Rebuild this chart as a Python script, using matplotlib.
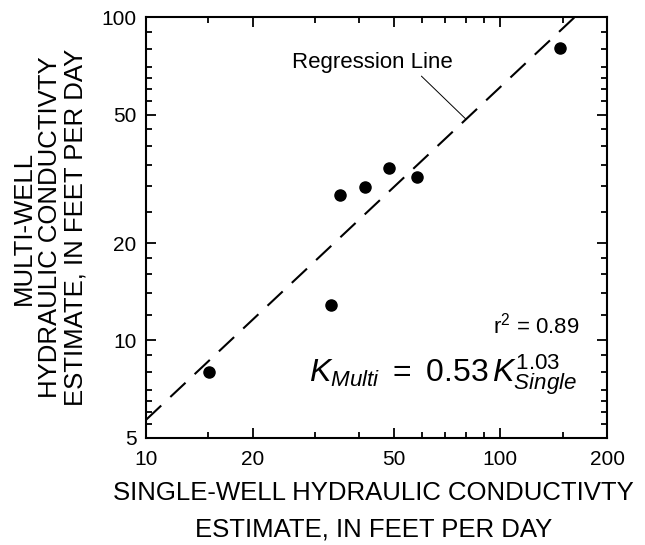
import numpy as np
import matplotlib.pyplot as plt
from matplotlib.ticker import FixedLocator, NullFormatter, FuncFormatter

plt.rcParams["font.family"] = ["Liberation Sans", "DejaVu Sans"]
plt.rcParams["mathtext.fontset"] = "custom"
plt.rcParams["mathtext.rm"] = "Liberation Sans"
plt.rcParams["mathtext.it"] = "Liberation Sans:italic"

# ── data ──────────────────────────────────────────────────────────────────
k_single = [15.1, 33.3, 35.3, 41.5, 48.6, 58.1, 147.4]
k_multi  = [8.0, 12.9, 28.2, 29.9, 34.1, 32.0, 80.4]

coef     = 0.53
exponent = 1.03
r2       = 0.89

x_major = [10, 20, 50, 100, 200]
x_minor = [15, 30, 40, 60, 70, 80, 90, 150]
y_major = [5, 10, 20, 50, 100]
y_minor = [5.5, 6, 6.5, 7, 8, 9, 12, 14, 16, 18, 25, 30, 35, 40, 45,
           55, 60, 65, 70, 80, 90]

# ── figure ────────────────────────────────────────────────────────────────
fig = plt.figure(figsize=(6.45, 5.45), dpi=100)
ax = fig.add_axes([0.2264, 0.1969, 0.7147, 0.7714])
ax.set_xscale("log")
ax.set_yscale("log")
ax.set_xlim(10, 200)
ax.set_ylim(5, 100)

# regression line  K_multi = 0.53 K_single^1.03
xx = np.logspace(1, np.log10(200), 200)
ax.plot(xx, coef * xx**exponent, color="black", lw=1.5, dashes=(10, 6))

ax.plot(k_single, k_multi, "o", color="black", ms=8, zorder=3)

# leader for the regression line label
x_lead = 80
ax.annotate("Regression Line", xy=(x_lead, coef * x_lead**exponent),
            xytext=(43.4, 69.5), ha="center", va="baseline", fontsize=16,
            arrowprops=dict(arrowstyle="-", lw=0.7, color="black",
                            relpos=(0.79, 0), shrinkA=0, shrinkB=0))

ax.text(0.941, 0.249, r"r$^{2}$ = " + f"{r2:.2f}", transform=ax.transAxes,
        ha="right", va="baseline", fontsize=16)
ax.text(0.935, 0.1325,
        r"$K_{Multi}\ =\ $" + f"{coef:.2f}" + r"$\,K_{Single}^{" + f"{exponent:.2f}" + "}$",
        transform=ax.transAxes, ha="right", va="baseline", fontsize=23)

# ── axes styling ──────────────────────────────────────────────────────────
fmt = FuncFormatter(lambda v, p: f"{v:g}")
ax.xaxis.set_major_locator(FixedLocator(x_major))
ax.xaxis.set_minor_locator(FixedLocator(x_minor))
ax.yaxis.set_major_locator(FixedLocator(y_major))
ax.yaxis.set_minor_locator(FixedLocator(y_minor))
ax.xaxis.set_major_formatter(fmt)
ax.yaxis.set_major_formatter(fmt)
ax.xaxis.set_minor_formatter(NullFormatter())
ax.yaxis.set_minor_formatter(NullFormatter())

ax.tick_params(which="both", direction="in", top=True, right=True,
               width=1.3, labelsize=15)
ax.tick_params(which="major", length=7)
ax.tick_params(which="minor", length=4)
ax.tick_params(axis="x", which="major", pad=9)
ax.tick_params(axis="y", which="major", pad=7)
for s in ax.spines.values():
    s.set_linewidth(1.5)

ax.set_xlabel("SINGLE-WELL HYDRAULIC CONDUCTIVTY\nESTIMATE, IN FEET PER DAY",
              fontsize=18.5, linespacing=1.65)
ax.xaxis.set_label_coords(0.494, -0.104)
ax.set_ylabel("MULTI-WELL\nHYDRAULIC CONDUCTIVTY\nESTIMATE, IN FEET PER DAY",
              fontsize=18.5, linespacing=1.08)
ax.yaxis.set_label_coords(-0.128, 0.5)

plt.savefig("out.png", dpi=100)
